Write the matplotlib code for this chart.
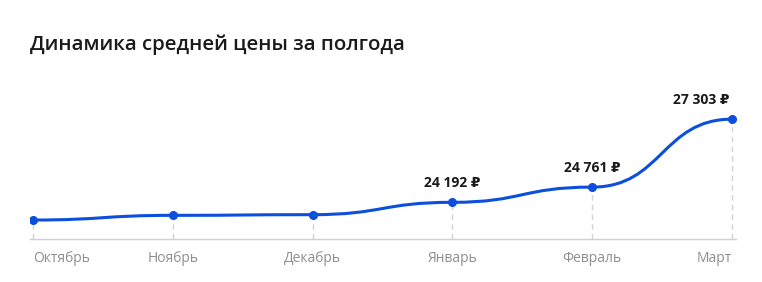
import matplotlib
matplotlib.use("Agg")
import matplotlib.pyplot as plt
from matplotlib.path import Path
from matplotlib.patches import PathPatch
import numpy as np

months = ["Октябрь", "Ноябрь", "Декабрь", "Январь", "Февраль", "Март"]
prices = [23530, 23705, 23730, 24192, 24761, 27303]
labelled = [3, 4, 5]
title = "Динамика средней цены за полгода"

plt.rcParams['font.family'] = ['Open Sans', 'DejaVu Sans']

W, H = 762, 282
fig = plt.figure(figsize=(W / 100, H / 100), dpi=100)
ax = fig.add_axes([30 / W, 1 - 239 / H, 706 / W, 139 / H])

x = np.arange(len(prices), dtype=float)
y = np.array(prices, dtype=float)
n = len(x)

# smooth curve with horizontal tangents at every point (bump-style bezier)
verts = [(x[0], y[0])]
codes = [Path.MOVETO]
for i in range(n - 1):
    xm = (x[i] + x[i + 1]) / 2
    verts += [(xm, y[i]), (xm, y[i + 1]), (x[i + 1], y[i + 1])]
    codes += [Path.CURVE4] * 3

x0, x1 = -3 / 139.8, 5 + 4 / 139.8
ax.set_xlim(x0, x1)
ax.set_ylim(22820, 28020)

for xi, yi in zip(x, y):
    ax.plot([xi, xi], [22820, yi], color="#d4d4d4", lw=1, ls=(0, (4, 3)), zorder=1)

ax.add_patch(PathPatch(Path(verts, codes), facecolor="none", edgecolor="#0b4fdc", lw=2.2, zorder=3))
ax.plot(x, y, "o", color="#0b4fdc", ms=5.5, zorder=4)

for i in labelled:
    ha = "center" if i < n - 1 else "right"
    xo = 0 if i < n - 1 else -0.02
    ax.annotate(f"{prices[i]:,}".replace(",", " ") + " ₽", (x[i] + xo, y[i]),
                xytext=(0, 9), textcoords="offset points", ha=ha, va="bottom",
                fontsize=10, fontweight="bold", color="#1a1a1a")

for sp in ["top", "right", "left"]:
    ax.spines[sp].set_visible(False)
ax.spines["bottom"].set_color("#d0d0d0")
ax.spines["bottom"].set_linewidth(1)
ax.set_yticks([])
ax.set_xticks(x)
ax.set_xticklabels(months, fontsize=10, color="#8f8f8f")
ax.tick_params(axis="x", length=0, pad=9)
labels = ax.get_xticklabels()
labels[0].set_ha("left")
labels[0].set_x(x0)
labels[-1].set_ha("right")
labels[-1].set_x(x1)

fig.text(30 / W, 1 - 45 / H, title, fontsize=14.7, fontweight="semibold", color="#1a1a1a", va="center", ha="left")

fig.savefig("out.png", dpi=100, facecolor="white")
